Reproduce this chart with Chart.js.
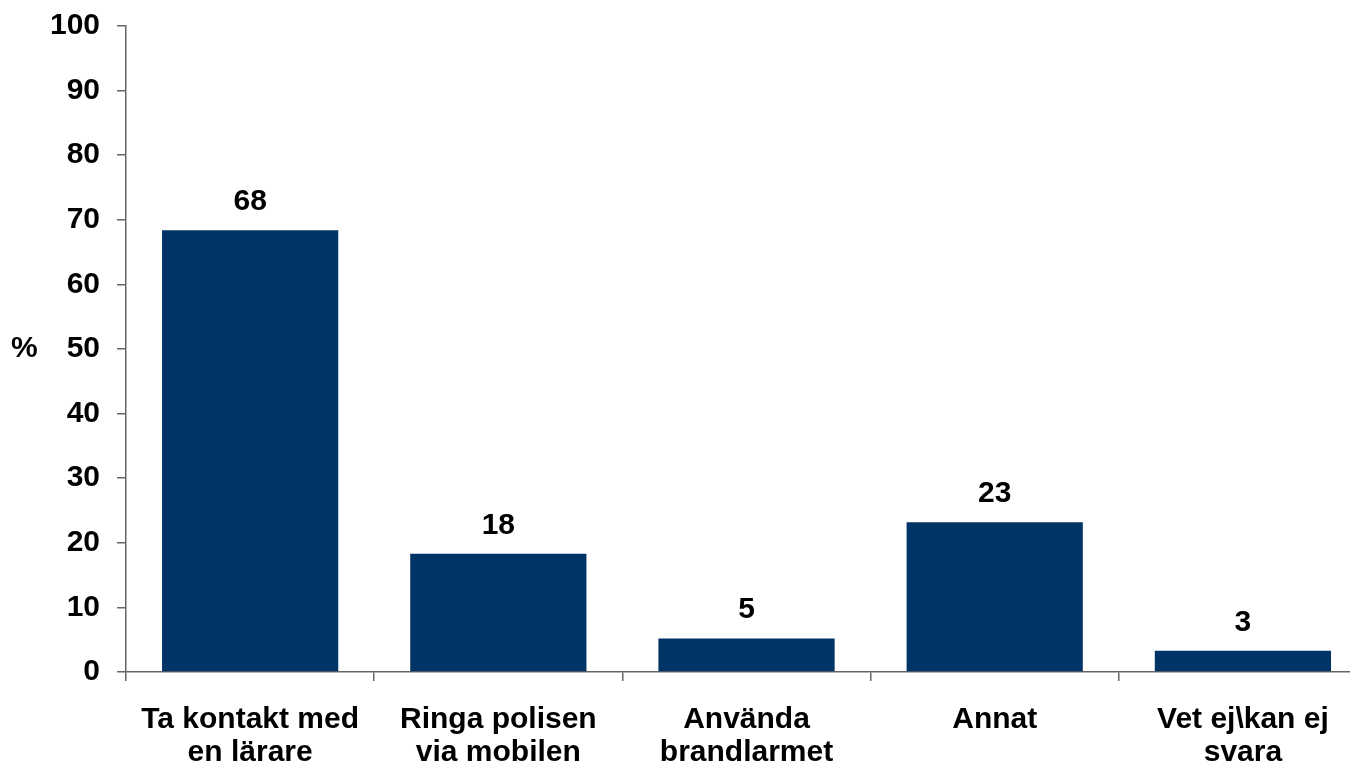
<!DOCTYPE html>
<html>
<head>
<meta charset="utf-8">
<script src="https://cdn.jsdelivr.net/npm/chart.js@4/dist/chart.umd.min.js"></script>
<style>
  html, body { margin: 0; padding: 0; background: #fff; overflow: hidden; }
  #wrap { width: 1367px; height: 767px; position: relative; }
</style>
</head>
<body>
<div id="wrap"><canvas id="c"></canvas></div>
<script>
const categories = [
  ["Ta kontakt med", "en lärare"],
  ["Ringa polisen", "via mobilen"],
  ["Använda", "brandlarmet"],
  ["Annat"],
  ["Vet ej\\kan ej", "svara"]
];
const values = [68.4, 18.3, 5.2, 23.2, 3.3];
const valueLabels = ["68", "18", "5", "23", "3"];
const yTicks = [0, 10, 20, 30, 40, 50, 60, 70, 80, 90, 100];
const yAxisTitle = "%";

const FONT = "'Liberation Sans', Arial, sans-serif";

const extras = {
  id: 'extras',
  afterDatasetsDraw(chart) {
    const ctx = chart.ctx;
    const meta = chart.getDatasetMeta(0);
    ctx.save();
    ctx.font = "bold 30px " + FONT;
    ctx.fillStyle = "#000";
    ctx.textAlign = "center";
    ctx.textBaseline = "alphabetic";
    meta.data.forEach((bar, i) => {
      ctx.fillText(valueLabels[i], bar.x, bar.y - 20);
    });
    const ys = chart.scales.y;
    ctx.textAlign = "left";
    ctx.textBaseline = "middle";
    ctx.fillText(yAxisTitle, 11, ys.getPixelForValue(50));
    ctx.restore();
  }
};

new Chart(document.getElementById('c'), {
  type: 'bar',
  data: {
    labels: categories,
    datasets: [{
      data: values,
      backgroundColor: '#003366',
      borderWidth: 0,
      barPercentage: 0.71,
      categoryPercentage: 1.0
    }]
  },
  options: {
    responsive: true,
    maintainAspectRatio: false,
    animation: false,
    devicePixelRatio: 1,
    layout: { padding: { left: 33, top: 26, right: 0, bottom: -24 } },
    plugins: { legend: { display: false }, tooltip: { enabled: false } },
    scales: {
      x: {
        offset: true,
        afterFit(scale) { scale.paddingLeft = 0; scale.paddingRight = 0; },
        grid: { display: true, offset: true, drawOnChartArea: false, drawTicks: true, tickLength: 9, color: '#666', lineWidth: 1.5 },
        border: { display: true, color: '#666', width: 1.5 },
        ticks: { color: '#000', padding: 22, maxRotation: 0, autoSkip: false, font: { family: FONT, size: 30, weight: 'bold', lineHeight: 1.1 } }
      },
      y: {
        min: 0, max: 100,
        afterFit(scale) { scale.paddingTop = 0; scale.paddingBottom = 0; },
        afterBuildTicks(scale) { scale.ticks = yTicks.map(v => ({ value: v })); },
        grid: { display: true, drawOnChartArea: false, drawTicks: true, tickLength: 9, color: '#666', lineWidth: 1.5 },
        border: { display: true, color: '#666', width: 1.5 },
        ticks: { color: '#000', padding: 17, font: { family: FONT, size: 30, weight: 'bold' } }
      }
    }
  },
  plugins: [extras]
});
</script>
</body>
</html>
